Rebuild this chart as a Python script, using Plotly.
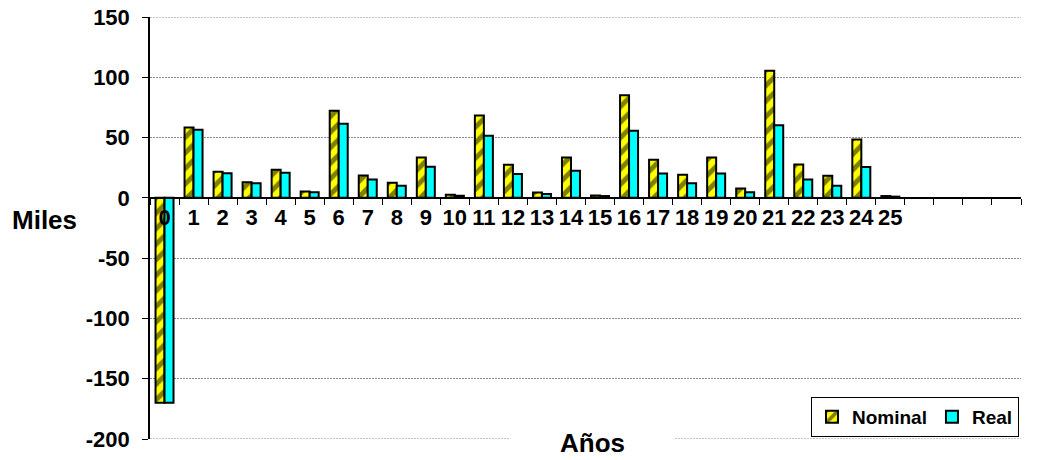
import plotly.graph_objects as go

categories = [str(i) for i in range(30)]
tick_labels = [str(i) if i <= 25 else "" for i in range(30)]

nominal = [-170, 58.4, 21.6, 13, 23.3, 5.3, 72.3, 18.5, 12.5, 33.5,
           2.5, 68.4, 27.4, 4.4, 33.5, 2, 85, 31.6, 19.1, 33.5,
           7.7, 105.5, 27.7, 18.3, 48.4, 1.5, None, None, None, None]
real = [-170, 56.5, 20.5, 12.2, 20.8, 4.7, 61.5, 15.2, 10, 25.7,
        1.8, 51.5, 19.7, 3.3, 22.4, 1.5, 55.6, 20.2, 12.2, 20.2,
        4.7, 60.3, 15.2, 10, 25.5, 1, None, None, None, None]

y_ticks = [-200, -150, -100, -50, 0, 50, 100, 150]
y_tick_text = ["-200", "-150", "-100", "-50", "0", "50", "100", "150"]

FONT = "Liberation Sans, Arial, sans-serif"
GRID_COLOR = "#8a8a8a"
GRID_DASH = "2px,1px"

fig = go.Figure()
fig.add_trace(go.Bar(
    x=categories, y=nominal, name="Nominal",
    marker=dict(color="#FFFF00", line=dict(color="black", width=2),
                pattern=dict(shape="/", fgcolor="black", size=11, solidity=0.45,
                             fillmode="overlay")),
))
fig.add_trace(go.Bar(
    x=categories, y=real, name="Real",
    marker=dict(color="#00FFFF", line=dict(color="black", width=2)),
))

# edge gridlines (Plotly hides grid lines at the range limits)
edge_shapes = [
    dict(type="line", xref="paper", x0=0, x1=1, yref="y", y0=v, y1=v,
         line=dict(color=GRID_COLOR, width=1, dash=GRID_DASH), layer="below")
    for v in (y_ticks[0], y_ticks[-1])
]

fig.update_layout(
    width=1041, height=460,
    margin=dict(l=150, r=20, t=17, b=21),
    paper_bgcolor="white", plot_bgcolor="white",
    barmode="group", bargap=0.38, bargroupgap=0,
    font=dict(family=FONT, color="black"),
    showlegend=True,
    legend=dict(orientation="h", x=0.9977, y=0.0995, xanchor="right", yanchor="top",
                bordercolor="black", borderwidth=1, bgcolor="white",
                font=dict(size=19, weight="bold", family=FONT),
                itemwidth=30, tracegroupgap=0),
    xaxis=dict(type="category", categoryorder="array", categoryarray=categories,
               tickmode="array", tickvals=categories, ticktext=tick_labels,
               range=[-0.5, 29.5], anchor="free", position=200/350, automargin=False,
               showline=True, linecolor="black", linewidth=1.5,
               ticks="outside", tickson="boundaries", ticklen=6, tickcolor="black",
               tickangle=0, showgrid=False, zeroline=False,
               tickfont=dict(size=22, weight="bold", family=FONT)),
    yaxis=dict(range=[-200, 150], tickmode="array", tickvals=y_ticks, ticktext=y_tick_text,
               automargin=False,
               showline=True, linecolor="black", linewidth=1.5,
               ticks="outside", ticklen=6, tickcolor="black",
               showgrid=True, gridcolor=GRID_COLOR, griddash=GRID_DASH, gridwidth=1,
               zeroline=False, ticklabelstandoff=8,
               tickfont=dict(size=22, weight="bold", family=FONT)),
    shapes=edge_shapes,
    annotations=[
        dict(text="Miles", xref="paper", yref="paper", x=-0.1206, y=0.519,
             xanchor="center", yanchor="middle", showarrow=False,
             font=dict(size=26, weight="bold", family=FONT)),
        dict(text="Años", xref="paper", yref="paper", x=0.5086, y=-0.0095,
             xanchor="center", yanchor="middle", showarrow=False,
             width=161, bgcolor="white",
             font=dict(size=26, weight="bold", family=FONT)),
    ],
)

fig.write_html("out.html")
